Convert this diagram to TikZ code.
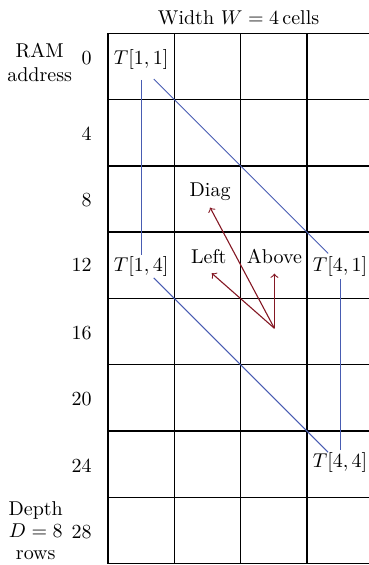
\documentclass[tikz,border=0pt]{standalone}
\usepackage{amsmath,amssymb}
\usepackage{tikz}
\definecolor{linkblue}{RGB}{72,92,178}
\definecolor{arrowred}{RGB}{132,24,36}

\begin{document}
\begin{tikzpicture}[x=33.15pt,y=33.15pt,
  tlabel/.style={anchor=base,inner sep=1pt},
  addr/.style={anchor=base east},
  blueline/.style={linkblue,line width=0.5pt},
  redarrow/.style={arrowred,line width=0.55pt,->}]
\useasboundingbox (-1.629,0.502) rectangle (3.922,-8.02);
\draw[step=1,line width=0.7pt] (0,-8) grid (4,0);
\node[anchor=base] (width) at (1.97,0.125) {Width $W = 4$\,cells};
\node[align=center] (ram) at (-1.03,-0.44) {RAM\\address};
\node[align=center] (depth) at (-1.09,-7.5) {Depth\\[-1pt]$D = 8$\\[-1pt]rows};
\node[addr] (a0) at (-0.14,-0.47) {0};
\node[addr] (a4) at (-0.14,-1.62) {4};
\node[addr] (a8) at (-0.14,-2.62) {8};
\node[addr] (a12) at (-0.14,-3.6) {12};
\node[addr] (a16) at (-0.14,-4.62) {16};
\node[addr] (a20) at (-0.14,-5.62) {20};
\node[addr] (a24) at (-0.14,-6.62) {24};
\node[addr] (a28) at (-0.14,-7.62) {28};
\node[tlabel] (T11) at (0.5,-0.47) {$T[1,1]$};
\node[tlabel] (T14) at (0.5,-3.6) {$T[1,4]$};
\node[tlabel] (T41) at (3.5,-3.6) {$T[4,1]$};
\node[tlabel] (T44) at (3.5,-6.55) {$T[4,4]$};
\coordinate (d1s) at (0.69,-0.69);
\coordinate (d1e) at (3.32,-3.32);
\coordinate (d2s) at (0.69,-3.69);
\coordinate (d2e) at (3.32,-6.32);
\draw[blueline,shorten <=4pt] (T11.south) -- (T14.north);
\draw[blueline] (d1s) -- (d1e);
\draw[blueline] (T41.south) -- (T44.north);
\draw[blueline] (d2s) -- (d2e);
\coordinate (o) at (2.51,-4.45);
\node[anchor=base] (lbdiag) at (1.54,-2.46) {Diag};
\node[anchor=base] (lbleft) at (1.52,-3.47) {Left};
\node[anchor=base] (lbabove) at (2.51,-3.47) {Above};
\draw[redarrow] (o) -- (lbdiag.south);
\draw[redarrow,shorten >=2pt] (o) -- (lbleft.south);
\draw[redarrow,shorten >=1.5pt] (o) -- (lbabove.south);
\end{tikzpicture}
\end{document}
